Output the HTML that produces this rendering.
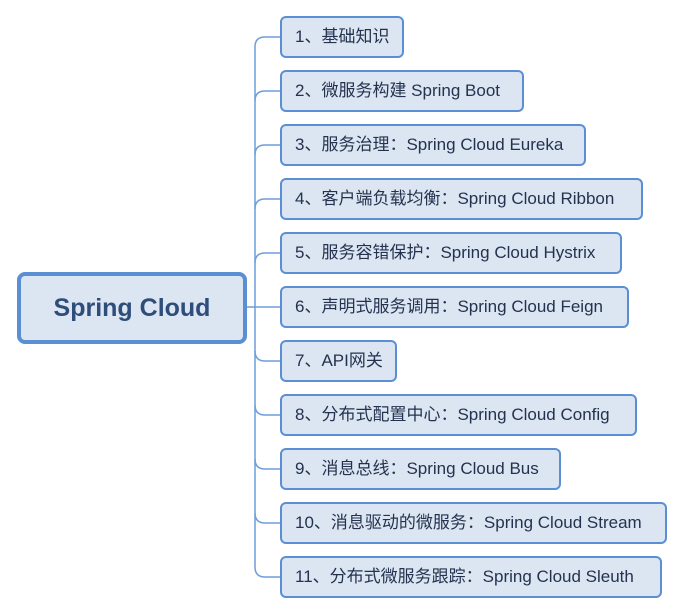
<!DOCTYPE html>
<html><head><meta charset="utf-8"><style>
html,body{margin:0;padding:0;background:#fff;width:684px;height:614px;overflow:hidden;position:relative}
.b{position:absolute;left:280px;height:38px;box-sizing:content-box;border:2px solid #5b8fd3;border-radius:6px;background:#dce6f2;font:17px "Liberation Sans","Noto Sans CJK SC",sans-serif;color:#24324f;line-height:38px;padding-left:13px;white-space:nowrap}
.c{position:absolute;left:17px;top:272px;width:222px;height:64px;border:4px solid #5b8fd3;border-radius:8px;background:#dce6f2;font:bold 25px "Liberation Sans",sans-serif;color:#2f4d7a;text-align:center;line-height:64px}
</style></head><body>
<svg width="684" height="614" style="position:absolute;left:0;top:0">
<g fill="none" stroke="#6f9edb" stroke-width="1.5">
<path d="M245 307 H280"/>
<path d="M280 37 H265 Q255 37 255 47 V567 Q255 577 265 577 H280"/>
<path d="M280 91 H265 Q255 91 255 101"/>
<path d="M280 145 H265 Q255 145 255 155"/>
<path d="M280 199 H265 Q255 199 255 209"/>
<path d="M280 253 H265 Q255 253 255 263"/>
<path d="M280 361 H265 Q255 361 255 351"/>
<path d="M280 415 H265 Q255 415 255 405"/>
<path d="M280 469 H265 Q255 469 255 459"/>
<path d="M280 523 H265 Q255 523 255 513"/>
</g></svg>
<div class="c">Spring Cloud</div>
<div class="b" style="top:16px;width:107px">1、基础知识</div>
<div class="b" style="top:70px;width:227px">2、微服务构建 Spring Boot</div>
<div class="b" style="top:124px;width:289px">3、服务治理：Spring Cloud Eureka</div>
<div class="b" style="top:178px;width:346px">4、客户端负载均衡：Spring Cloud Ribbon</div>
<div class="b" style="top:232px;width:325px">5、服务容错保护：Spring Cloud Hystrix</div>
<div class="b" style="top:286px;width:332px">6、声明式服务调用：Spring Cloud Feign</div>
<div class="b" style="top:340px;width:100px">7、API网关</div>
<div class="b" style="top:394px;width:340px">8、分布式配置中心：Spring Cloud Config</div>
<div class="b" style="top:448px;width:264px">9、消息总线：Spring Cloud Bus</div>
<div class="b" style="top:502px;width:370px">10、消息驱动的微服务：Spring Cloud Stream</div>
<div class="b" style="top:556px;width:365px">11、分布式微服务跟踪：Spring Cloud Sleuth</div>
</body></html>
